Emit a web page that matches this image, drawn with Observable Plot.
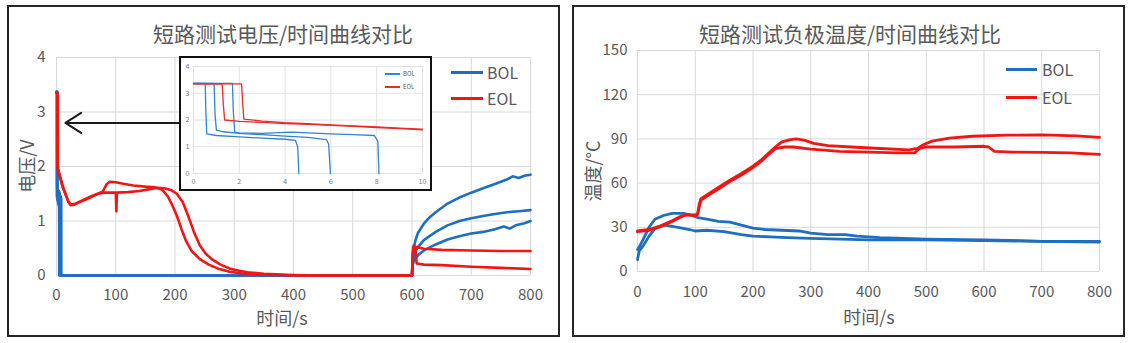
<!DOCTYPE html>
<html><head><meta charset="utf-8">
<script src="https://cdn.jsdelivr.net/npm/d3@7"></script>
<script src="https://cdn.jsdelivr.net/npm/@observablehq/plot@0.6"></script>
<style>
body{margin:0;background:#fff;}
#root{position:relative;width:1132px;height:343px;overflow:hidden;font-family:'Noto Sans CJK SC','Noto Sans',sans-serif;color:#595959;}
.panel{position:absolute;border:2px solid #262626;box-sizing:border-box;}
.txt{position:absolute;white-space:nowrap;line-height:1;transform:translate(-50%,-50%);}
.rot{transform:translate(-50%,-50%) rotate(-90deg);}
.legline{position:absolute;}
.legtxt{position:absolute;white-space:nowrap;line-height:1;transform:translateY(-50%);}
</style></head>
<body><div id="root"></div>
<script>
const FONT = "'Noto Sans CJK SC','Noto Sans',sans-serif";
const BLUE = "#1f6fbf", RED = "#f01616", GRID = "#d9d9d9";
const INSET_BLUE = "#3184cf", INSET_RED = "#ec2b2b";

// ---------- text ----------
const titleVolt = "短路测试电压/时间曲线对比";
const titleTemp = "短路测试负极温度/时间曲线对比";
const xLabel = "时间/s";
const yLabelVolt = "电压/V";
const yLabelTemp = "温度/°C";
const seriesNames = ["BOL", "EOL"];

// ---------- ticks ----------
const timeTicks = [0, 100, 200, 300, 400, 500, 600, 700, 800];
const voltTicks = [0, 1, 2, 3, 4];
const tempTicks = [0, 30, 60, 90, 120, 150];
const insetTimeTicks = [0, 2, 4, 6, 8, 10];
const insetVoltTicks = [0, 1, 2, 3, 4];

// ---------- voltage, first 10 s (inset) : [t s, V] ----------
const bolV1Early = [[0,3.37],[0.51,3.37],[0.54,2.3],[0.58,1.48],[1,1.42],[2,1.37],[3,1.32],[4,1.28],[4.45,1.24],[4.55,1.0],[4.6,0]];
const bolV2Early = [[0,3.37],[0.9,3.37],[0.94,2.2],[1.0,1.62],[1.3,1.56],[2,1.5],[3,1.45],[4,1.4],[5,1.35],[5.8,1.27],[5.9,1.1],[5.98,0]];
const bolV3Early = [[0,3.37],[1.7,3.37],[1.74,2.3],[1.8,1.55],[2,1.52],[3,1.5],[4,1.54],[4.3,1.55],[5,1.52],[6,1.48],[7,1.45],[7.9,1.42],[8.05,1.2],[8.1,0]];
const eolV1Early = [[0,3.35],[1.25,3.35],[1.3,2.6],[1.36,2.0],[2,1.95],[3,1.91],[4,1.87],[5,1.84],[6,1.8],[7,1.76],[8,1.72],[9,1.68],[10,1.63]];
const eolV2Early = [[0,3.35],[2.1,3.35],[2.15,2.6],[2.2,2.03],[3,1.96],[4,1.9],[5,1.86],[6,1.82],[7,1.78],[8,1.74],[9,1.7],[10,1.66]];

// ---------- voltage, 10 s - 800 s ----------
const bolV1Late = [[600,0],[601,0.3],[603,0.5],[606,0.65],[610,0.78],[620,0.95],[630,1.07],[640,1.16],[660,1.32],[680,1.43],[700,1.52],[720,1.6],[740,1.68],[760,1.76],[770,1.82],[780,1.79],[790,1.83],[800,1.85]];
const bolV2Late = [[600,0],[601,0.25],[605,0.42],[610,0.52],[620,0.65],[640,0.8],[660,0.92],[680,1.0],[700,1.05],[720,1.09],[740,1.13],[760,1.16],[780,1.18],[800,1.2]];
const bolV3Late = [[600,0],[601,0.2],[605,0.3],[610,0.37],[620,0.46],[640,0.57],[660,0.66],[680,0.72],[700,0.77],[720,0.8],[740,0.85],[755,0.9],[765,0.86],[775,0.92],[790,0.96],[800,1.0]];
const eolV1Mid = [[15,1.5],[20,1.35],[24,1.29],[30,1.3],[40,1.35],[50,1.4],[60,1.45],[70,1.5],[78,1.54],[85,1.68],[90,1.72],[100,1.71],[115,1.68],[130,1.65],[150,1.63],[165,1.62],[178,1.58],[188,1.45],[195,1.3],[203,1.1],[211,0.85],[218,0.65],[228,0.45],[242,0.3],[257,0.2],[272,0.13],[292,0.07],[312,0.04],[340,0.02],[400,0],[600,0]];
const eolV2Mid = [[15,1.5],[20,1.36],[24,1.3],[30,1.31],[40,1.36],[50,1.41],[60,1.46],[70,1.5],[80,1.52],[100,1.52],[101,1.18],[102,1.52],[120,1.53],[140,1.55],[155,1.58],[170,1.61],[182,1.6],[193,1.57],[203,1.5],[213,1.35],[222,1.1],[232,0.8],[242,0.55],[252,0.4],[262,0.3],[277,0.2],[292,0.13],[302,0.1],[322,0.06],[350,0.03],[400,0.01],[450,0],[600,0]];
const eolV1Late = [[600,0],[601,0.3],[602,0.52],[610,0.52],[620,0.49],[650,0.47],[700,0.46],[750,0.45],[800,0.45]];
const eolV2Late = [[600,0],[601,0.4],[603,0.55],[606,0.45],[608,0.22],[620,0.2],[650,0.19],[700,0.16],[750,0.14],[800,0.12]];

// ---------- anode temperature : [t s, °C] ----------
const bolT1 = [[0,15],[5,18],[10,22],[20,30],[30,35.5],[45,38],[60,39.5],[80,39.5],[95,38],[105,36.5],[120,35.5],[140,34],[160,33.5],[180,31.5],[200,29.5],[220,28.5],[250,28],[280,27.5],[300,26],[330,25],[360,25],[380,24],[420,23],[500,22],[600,21.5],[700,20.5],[800,20.5]];
const bolT2 = [[0,8],[3,14],[10,17.5],[20,24],[30,29],[45,31.5],[55,31],[70,30],[90,28.5],[100,27.5],[120,28],[150,27],[180,25],[200,24],[230,23.5],[260,23],[300,22.5],[350,22],[400,21.5],[500,21.5],[600,21],[700,20.5],[800,20]];
const eolT1 = [[0,27],[20,28],[40,30.5],[60,34],[75,37],[85,38.5],[100,38.5],[104,39],[107,46],[110,49.5],[120,52],[140,57],[160,62],[180,66.5],[200,71.5],[215,76],[230,81.5],[240,85],[250,88],[265,89.5],[275,90],[290,89],[305,87],[330,85.5],[370,84.5],[420,83.5],[470,82.5],[485,83.5],[495,86],[510,88.5],[540,90.5],[580,91.8],[640,92.5],[700,92.7],[760,92],[800,91]];
const eolT2 = [[0,27.5],[20,28.5],[40,31],[60,34.5],[75,37.5],[85,38.5],[100,38],[104,38.5],[107,44],[110,48.5],[120,51],[140,56],[160,61],[180,65.5],[200,70.5],[215,75],[230,80.5],[240,83.5],[255,84.5],[270,84.5],[300,83],[350,81.5],[400,81],[450,80.5],[480,80.5],[488,83.5],[500,84.5],[550,84.5],[600,85],[608,84.5],[618,81.5],[650,81],[700,80.8],[750,80.5],[800,79.5]];

// arrow annotation (from inset to the t≈0 spike), in data units
const arrowNote = [{x1: 208, y1: 2.8, x2: 15, y2: 2.8}];

// ---------- build tables ----------
const rows = (arr, id) => arr.map(([t, v]) => ({t, v, id}));
const bolMain = [
  ...rows([...bolV1Early, ...bolV1Late], "b1"),
  ...rows([...bolV2Early, ...bolV2Late], "b2"),
  ...rows([...bolV3Early, ...bolV3Late], "b3")];
const eolMain = [
  ...rows([...eolV1Early, ...eolV1Mid, ...eolV1Late], "e1"),
  ...rows([...eolV2Early, ...eolV2Mid, ...eolV2Late], "e2")];
const bolInset = [...rows(bolV1Early,"b1"), ...rows(bolV2Early,"b2"), ...rows(bolV3Early,"b3")];
const eolInset = [...rows(eolV1Early,"e1"), ...rows(eolV2Early,"e2")];
const bolTemp = [...rows(bolT1,"b1"), ...rows(bolT2,"b2")];
const eolTemp = [...rows(eolT1,"e1"), ...rows(eolT2,"e2")];

const fmt = d => String(d);
const root = document.getElementById("root");
function place(el, left, top) { el.style.position = "absolute"; el.style.left = left + "px"; el.style.top = top + "px"; root.appendChild(el); return el; }
function div(cls, html, css) { const d = document.createElement("div"); d.className = cls; d.innerHTML = html; Object.assign(d.style, css); root.appendChild(d); return d; }

// panels
div("panel", "", {left: "7px", top: "5px", width: "553px", height: "332px"});
div("panel", "", {left: "572px", top: "5px", width: "553px", height: "332px"});

// ---------- left main chart ----------
const leftPlot = Plot.plot({
  width: 548, height: 280,
  marginLeft: 47, marginRight: 27, marginTop: 17, marginBottom: 45,
  x: {domain: [0, 800], label: null},
  y: {domain: [0, 4], label: null},
  style: {fontFamily: FONT, fontSize: "15px", color: "#595959", background: "transparent", overflow: "visible"},
  marks: [
    Plot.gridX(timeTicks, {stroke: GRID, strokeOpacity: 1}),
    Plot.gridY(voltTicks, {stroke: GRID, strokeOpacity: 1}),
    Plot.axisX(timeTicks, {tickSize: 0, tickPadding: 14, label: null, tickFormat: fmt}),
    Plot.axisY(voltTicks, {tickSize: 0, tickPadding: 11, label: null, tickFormat: fmt}),
    Plot.line(bolMain, {x: "t", y: "v", z: "id", stroke: BLUE, strokeWidth: 2.6}),
    Plot.line(eolMain, {x: "t", y: "v", z: "id", stroke: RED, strokeWidth: 2.6}),
    Plot.arrow(arrowNote, {x1: "x1", y1: "y1", x2: "x2", y2: "y2", stroke: "#1a1a1a", strokeWidth: 2, headLength: 14, headAngle: 65})
  ]
});
place(leftPlot, 9, 40);

// ---------- inset ----------
const insetPlot = Plot.plot({
  width: 249, height: 131,
  marginLeft: 12, marginRight: 8, marginTop: 8, marginBottom: 16,
  x: {domain: [0, 10], label: null},
  y: {domain: [0, 4], label: null},
  style: {fontFamily: FONT, fontSize: "7px", color: "#7a7a7a", background: "#fff", overflow: "visible"},
  marks: [
    Plot.gridX(insetTimeTicks, {stroke: "#e2e2e2", strokeOpacity: 1}),
    Plot.gridY(insetVoltTicks, {stroke: "#e2e2e2", strokeOpacity: 1}),
    Plot.axisX(insetTimeTicks, {tickSize: 0, tickPadding: 6, label: null, tickFormat: fmt}),
    Plot.axisY(insetVoltTicks, {tickSize: 0, tickPadding: 4, label: null, tickFormat: fmt}),
    Plot.line(bolInset, {x: "t", y: "v", z: "id", stroke: INSET_BLUE, strokeWidth: 1.3}),
    Plot.line(eolInset, {x: "t", y: "v", z: "id", stroke: INSET_RED, strokeWidth: 1.3})
  ]
});
place(insetPlot, 181, 58);
div("panel", "", {left: "179px", top: "56px", width: "253px", height: "135px", border: "2px solid #111"});

// ---------- right chart ----------
const rightPlot = Plot.plot({
  width: 548, height: 280,
  marginLeft: 62, marginRight: 24, marginTop: 10, marginBottom: 49,
  x: {domain: [0, 800], label: null},
  y: {domain: [0, 150], label: null},
  style: {fontFamily: FONT, fontSize: "15px", color: "#595959", background: "transparent", overflow: "visible"},
  marks: [
    Plot.gridX(timeTicks, {stroke: GRID, strokeOpacity: 1}),
    Plot.gridY(tempTicks, {stroke: GRID, strokeOpacity: 1}),
    Plot.axisX(timeTicks, {tickSize: 0, tickPadding: 15, label: null, tickFormat: fmt}),
    Plot.axisY(tempTicks, {tickSize: 0, tickPadding: 10, label: null, tickFormat: fmt}),
    Plot.line(bolTemp, {x: "t", y: "v", z: "id", stroke: BLUE, strokeWidth: 2.8}),
    Plot.line(eolTemp, {x: "t", y: "v", z: "id", stroke: RED, strokeWidth: 2.8})
  ]
});
place(rightPlot, 575, 40);

// ---------- titles & axis titles ----------
div("txt", titleVolt, {left: "283px", top: "33px", fontSize: "21px"});
div("txt", titleTemp, {left: "850px", top: "33px", fontSize: "21px"});
div("txt", xLabel, {left: "282px", top: "317px", fontSize: "18px"});
div("txt", xLabel, {left: "869px", top: "316px", fontSize: "18px"});
div("txt rot", yLabelVolt, {left: "26px", top: "166px", fontSize: "18px"});
div("txt rot", yLabelTemp, {left: "592px", top: "171px", fontSize: "18px"});

// ---------- legends ----------
function legend(x, ys, len, thick, gap, fs, colors) {
  seriesNames.forEach((name, i) => {
    div("legline", "", {left: x + "px", top: (ys[i] - thick / 2) + "px", width: len + "px", height: thick + "px", background: colors[i]});
    div("legtxt", name, {left: (x + len + gap) + "px", top: ys[i] + "px", fontSize: fs + "px"});
  });
}
legend(451, [72, 98], 32, 3, 4, 16, [BLUE, RED]);
legend(1006, [69, 97], 31, 3, 5, 16, [BLUE, RED]);
legend(385, [74, 87], 15, 1.2, 3, 6, [INSET_BLUE, INSET_RED]);
</script>
</body></html>
